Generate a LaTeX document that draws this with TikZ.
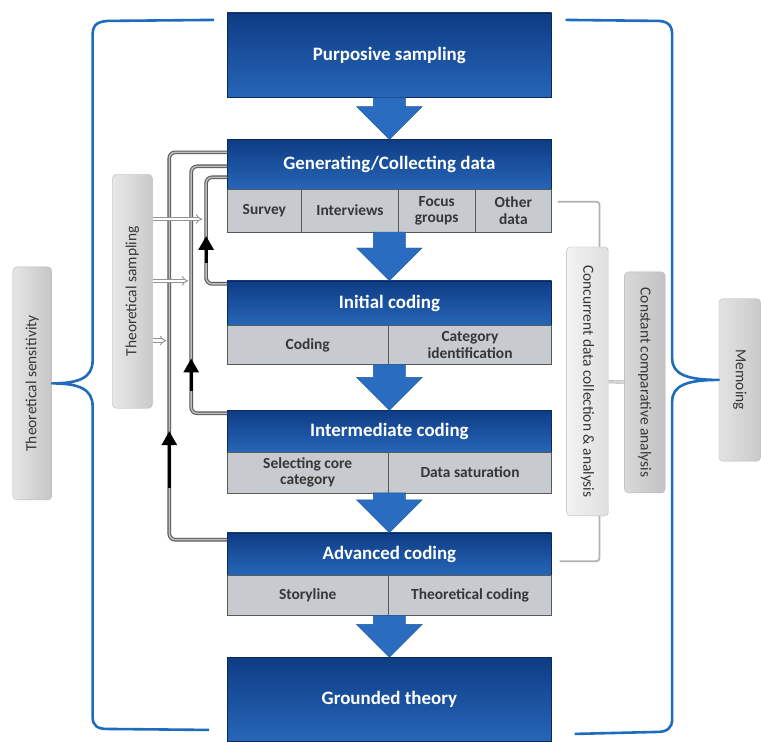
\documentclass[tikz,border=0pt]{standalone}
\usepackage{fontspec}
\setmainfont{Carlito}
\usetikzlibrary{arrows.meta,positioning,calc}

\definecolor{navy}{HTML}{0E3C84}
\definecolor{midblue}{HTML}{2766B8}
\definecolor{arrowblue}{HTML}{2A6CC0}
\definecolor{bracket}{HTML}{1E6CBE}
\definecolor{cellgray}{HTML}{C7CACE}
\definecolor{inkgray}{HTML}{363636}

\begin{document}
\begin{tikzpicture}[x=1pt, y=-1pt,
        header/.style={rectangle, anchor=north west, inner sep=0pt, outer sep=0pt,
            minimum width=326pt, top color=navy, bottom color=midblue,
            draw=navy!70!black, text=white,
            font=\fontsize{19}{21}\selectfont\bfseries},
        cell/.style={rectangle, inner sep=0pt, outer sep=0pt, fill=cellgray,
            draw=black!65, line width=0.8pt, text=inkgray, align=center,
            font=\fontsize{15.5}{16.5}\selectfont\bfseries},
        graybox/.style={rectangle, rounded corners=4pt, inner sep=0pt,
            draw=gray!55, text=inkgray, font=\fontsize{15.5}{17}\selectfont},
        bigarrow/.style={fill=arrowblue, draw=arrowblue!80!black, line width=0.4pt},
        loopline/.style={draw=black!65, double=gray!50, double distance=1.5pt,
            line width=1.1pt, rounded corners=6pt},
        upmark/.style={black, line width=3pt, -{Triangle[width=15pt,length=14pt]}},
        feed/.style={draw=gray!85, double=white, double distance=2.4pt,
            line width=0.9pt, -{Implies}},
        link/.style={draw=gray!60, line width=1.8pt},
        bracket/.style={draw=bracket, line width=2.6pt, line join=round}]

        \fill[white] (0,0) rectangle (761,740);

        \node[graybox, rotate=90, minimum width=234pt, minimum height=39pt,
            left color=gray!20, right color=gray!45] (sens) at (32.5,385)
            {Theoretical sensitivity};

        \node[graybox, rotate=90, minimum width=235pt, minimum height=40pt,
            left color=gray!18, right color=gray!42] (samp) at (133,292.5)
            {Theoretical sampling};

        \node[graybox, rotate=-90, minimum width=270pt, minimum height=42pt,
            left color=gray!10, right color=gray!25] (conc) at (590,383)
            {Concurrent data collection \& analysis};

        \node[graybox, rotate=-90, minimum width=222pt, minimum height=41pt,
            left color=gray!30, right color=gray!48] (const) at (647.5,384)
            {Constant comparative analysis};

        \node[graybox, rotate=-90, minimum width=163pt, minimum height=42pt,
            left color=gray!22, right color=gray!42] (memo) at (743,381.5)
            {Memoing};

        \node[header, minimum height=85pt] (purp) at (228,13) {Purposive sampling};

        \node[header, minimum height=50pt] (gen) at (228,140) {Generating/Collecting data};
        \node[cell, anchor=north west, minimum width=75pt, minimum height=43pt]
            (survey) at (gen.south west) {Survey};
        \node[cell, right=0pt of survey, minimum width=97pt, minimum height=43pt]
            (interv) {Interviews};
        \node[cell, right=0pt of interv, minimum width=77pt, minimum height=43pt]
            (focus) {Focus\\groups};
        \node[cell, right=0pt of focus, minimum width=77pt, minimum height=43pt]
            (other) {Other\\data};

        \node[header, minimum height=45pt] (init) at (228,282) {Initial coding};
        \node[cell, anchor=north west, minimum width=162pt, minimum height=39pt]
            (coding) at (init.south west) {Coding};
        \node[cell, right=0pt of coding, minimum width=164pt, minimum height=39pt]
            (catid) {Category\\identification};

        \node[header, minimum height=42pt] (inter) at (228,412) {Intermediate coding};
        \node[cell, anchor=north west, minimum width=162pt, minimum height=41pt]
            (selcore) at (inter.south west) {Selecting core\\category};
        \node[cell, right=0pt of selcore, minimum width=164pt, minimum height=41pt]
            (datasat) {Data saturation};

        \node[header, minimum height=43pt] (adv) at (228,535) {Advanced coding};
        \node[cell, anchor=north west, minimum width=162pt, minimum height=40pt]
            (story) at (adv.south west) {Storyline};
        \node[cell, right=0pt of story, minimum width=164pt, minimum height=40pt]
            (theocod) {Theoretical coding};

        \node[header, minimum height=84pt] (gt) at (228,660) {Grounded theory};

        \foreach \a/\b in {purp/gen, survey/init, coding/inter, selcore/adv, story/gt}
            \filldraw[bigarrow]
                ($(\b.north |- \a.south)+(-16,0)$) -- ($(\b.north)+(-16,-33)$)
                -- ++(-17,0) -- (\b.north) -- ($(\b.north)+(33,-33)$)
                -- ++(-17,0) -- ($(\b.north |- \a.south)+(16,0)$) -- cycle;

        \draw[loopline]
            ($(gen.north west)+(0,13)$) -- ++(-58,0) |- ($(adv.north west)+(0,7)$);

        \draw[loopline]
            ($(gen.north west)+(0,27)$) -- ++(-36,0) |- ($(inter.north west)+(0,3)$);

        \draw[loopline]
            ($(gen.north west)+(0,38)$) -- ++(-21,0) |- ($(init.north west)+(0,3)$);

        \draw[upmark] (207,264) -- (207,237);
        \draw[upmark] (192,393) -- (192,360);
        \draw[upmark] (170,490) -- (170,433);

        \coordinate (hitin) at (203,220);
        \coordinate (hitmid) at (189,282);
        \coordinate (hitout) at (167,342);

        \draw[feed] (samp.south |- hitin) -- (hitin);
        \draw[feed] (samp.south |- hitmid) -- (hitmid);
        \draw[feed] (samp.south |- hitout) -- (hitout);

        \draw[link, rounded corners=3pt]
            ($(other.east)+(6,-9)$) -| ($(conc.west)+(12,0)$);

        \draw[link, rounded corners=3pt]
            ($(conc.east)+(12,0)$) |- ($(adv.east)+(8,7)$);

        \draw[draw=gray!60, double=gray!30, double distance=1.6pt, line width=0.8pt]
            (conc) -- (const);

        \draw[bracket]
            (215,20) -- (108,21) .. controls (96,22) and (93,26) .. (93,36)
            -- (93,362) .. controls (93,379) and (80,385) .. (sens.south)
            .. controls (80,385) and (93,391) .. (93,408)
            -- (93,720) .. controls (93,729) and (98,732) .. (108,732) -- (210,733);

        \draw[bracket]
            (568,20) -- (662,21) .. controls (672,22) and (675,26) .. (675,36)
            -- (675,360) .. controls (675,376) and (690,381.5) .. (memo.south)
            .. controls (690,381.5) and (675,387) .. (675,403)
            -- (675,722) .. controls (675,731) and (670,735) .. (660,735) -- (577,737);

\end{tikzpicture}
\end{document}
